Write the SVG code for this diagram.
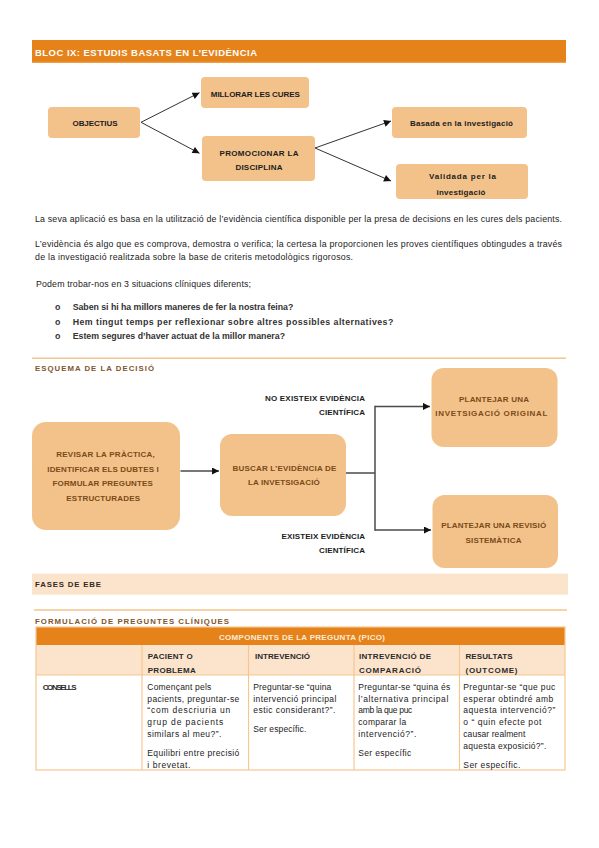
<svg xmlns="http://www.w3.org/2000/svg" width="599" height="848" viewBox="0 0 599 848">
<defs>
<style>
text{font-family:"Liberation Sans",Arial,sans-serif;}
.box{fill:#F2C28A;}
.bl{font-size:8px;font-weight:bold;fill:#1c1c1c;text-anchor:middle;}
.br{font-size:8px;font-weight:bold;fill:#7B4A17;text-anchor:middle;}
.lab{font-size:8px;font-weight:bold;fill:#1c1c1c;text-anchor:end;}
.p{font-size:8.8px;fill:#222;}
.pb{font-size:8.8px;fill:#333;font-weight:bold;}
.sec{font-size:7.8px;font-weight:bold;fill:#80562D;}
.th{font-size:8px;font-weight:bold;fill:#2a2a2a;}
.td{font-size:8.5px;fill:#222;}
.c1{stroke:#333;stroke-width:1;fill:none;}
.c2{stroke:#4a4a4a;stroke-width:1.5;fill:none;}
.rule{stroke:#F3C48C;stroke-width:1.5;}
.tb{stroke:#F5C68F;stroke-width:1.2;fill:none;}
</style>
<marker id="ah" markerUnits="userSpaceOnUse" markerWidth="8" markerHeight="7" viewBox="0 0 10 10" refX="10" refY="5" orient="auto">
<path d="M0,0 L10,5 L0,10 z" fill="#111"/>
</marker>
</defs>
<rect width="599" height="848" fill="#fff"/>

<g id="header">
<rect x="32" y="40" width="534" height="23" fill="#E5821A"/>
<line x1="32" y1="62.3" x2="566" y2="62.3" stroke="#F0A455" stroke-width="1"/>
<text x="35" y="55.5" font-size="9.5" font-weight="bold" fill="#fff" textLength="222">BLOC IX: ESTUDIS BASATS EN L’EVIDÈNCIA</text>
</g>

<g id="connectors">
<line class="c1" x1="141" y1="122.3" x2="199.5" y2="92.7" marker-end="url(#ah)"/>
<line class="c1" x1="141" y1="122.3" x2="199.5" y2="153.3" marker-end="url(#ah)"/>
<line class="c1" x1="315" y1="148" x2="391" y2="121" marker-end="url(#ah)"/>
<line class="c1" x1="315" y1="148" x2="391" y2="181" marker-end="url(#ah)"/>
<line class="c2" x1="180.5" y1="471" x2="219" y2="471" marker-end="url(#ah)"/>
<line class="c2" x1="346" y1="473" x2="375" y2="473"/>
<line class="c2" x1="375" y1="405.7" x2="375" y2="530.7"/>
<line class="c2" x1="375" y1="406.4" x2="430" y2="406.4" marker-end="url(#ah)"/>
<line class="c2" x1="375" y1="530" x2="431" y2="530" marker-end="url(#ah)"/>
</g>

<g id="objectius">
<rect class="box" x="48" y="107" width="92" height="31" rx="4"/>
<text class="bl" x="95" y="125.5" textLength="45">OBJECTIUS</text>
</g>
<g id="millorar">
<rect class="box" x="201" y="77" width="108" height="31" rx="4"/>
<text class="bl" x="255.3" y="97" textLength="89">MILLORAR LES CURES</text>
</g>
<g id="promocionar">
<rect class="box" x="202" y="136" width="113" height="45" rx="4"/>
<text class="bl" x="259" y="155.5" textLength="79">PROMOCIONAR LA</text>
<text class="bl" x="259" y="170" textLength="47">DISCIPLINA</text>
</g>
<g id="basada">
<rect class="box" x="392" y="107" width="135" height="31" rx="4"/>
<text class="bl" x="461.5" y="126" textLength="103">Basada en la investigació</text>
</g>
<g id="validada">
<rect class="box" x="396" y="164" width="132" height="35" rx="4"/>
<text class="bl" x="462.5" y="179" textLength="67">Validada per la</text>
<text class="bl" x="461" y="194.5" textLength="49">investigació</text>
</g>

<g id="text-block">
<text class="p" x="35" y="221.5" textLength="527">La seva aplicació es basa en la utilització de l’evidència científica disponible per la presa de decisions en les cures dels pacients.</text>
<text class="p" x="35" y="246.5" textLength="527">L’evidència és algo que es comprova, demostra o verifica; la certesa la proporcionen les proves científiques obtingudes a través</text>
<text class="p" x="35" y="259.5" textLength="318">de la investigació realitzada sobre la base de criteris metodològics rigorosos.</text>
<text class="p" x="36" y="287" textLength="215">Podem trobar-nos en 3 situacions clíniques diferents;</text>
<text class="pb" x="55" y="310">o</text>
<text class="pb" x="55" y="324.5">o</text>
<text class="pb" x="55" y="339">o</text>
<text class="pb" x="72.7" y="310" textLength="220.6">Saben si hi ha millors maneres de fer la nostra feina?</text>
<text class="pb" x="72.7" y="324.5" textLength="320.6">Hem tingut temps per reflexionar sobre altres possibles alternatives?</text>
<text class="pb" x="72.7" y="339" textLength="212.3">Estem segures d’haver actuat de la millor manera?</text>
</g>

<g id="esquema-title">
<line class="rule" x1="32" y1="358.3" x2="566" y2="358.3"/>
<text class="sec" x="35" y="371" textLength="119">ESQUEMA DE LA DECISIÓ</text>
</g>

<g id="revisar">
<rect class="box" x="32" y="422" width="148" height="108" rx="14"/>
<text class="br" x="105.5" y="457" textLength="98.6">REVISAR LA PRÀCTICA,</text>
<text class="br" x="103" y="472" textLength="111.5">IDENTIFICAR ELS DUBTES I</text>
<text class="br" x="102.7" y="486" textLength="100.4">FORMULAR PREGUNTES</text>
<text class="br" x="103.2" y="501" textLength="73.7">ESTRUCTURADES</text>
</g>
<g id="buscar">
<rect class="box" x="220" y="434" width="126" height="82" rx="12"/>
<text class="br" x="284.4" y="470.5" textLength="104">BUSCAR L’EVIDÈNCIA DE</text>
<text class="br" x="283.9" y="484.5" textLength="71.7">LA INVETSIGACIÓ</text>
</g>
<g id="original">
<rect class="box" x="431.5" y="368" width="126" height="79" rx="12"/>
<text class="br" x="494" y="402" textLength="70">PLANTEJAR UNA</text>
<text class="br" x="491.3" y="416" textLength="112">INVETSIGACIÓ ORIGINAL</text>
</g>
<g id="revisio">
<rect class="box" x="432.5" y="495" width="125.5" height="73" rx="12"/>
<text class="br" x="493.7" y="528" textLength="105">PLANTEJAR UNA REVISIÓ</text>
<text class="br" x="493.5" y="542.5" textLength="56">SISTEMÀTICA</text>
</g>
<g id="labels">
<text class="lab" x="365" y="400.5" textLength="100">NO EXISTEIX EVIDÈNCIA</text>
<text class="lab" x="365" y="415" textLength="46">CIENTÍFICA</text>
<text class="lab" x="365" y="538.5" textLength="83.4">EXISTEIX EVIDÈNCIA</text>
<text class="lab" x="365" y="553" textLength="46">CIENTÍFICA</text>
</g>

<g id="fases">
<rect x="32" y="573.6" width="536" height="21" fill="#FCE4CC"/>
<text x="35" y="587" font-size="7.8" font-weight="bold" fill="#33291f" textLength="66">FASES DE EBE</text>
</g>

<g id="formulacio-title">
<line class="rule" x1="34" y1="610" x2="567" y2="610"/>
<text class="sec" x="35" y="623.5" textLength="194">FORMULACIÓ DE PREGUNTES CLÍNIQUES</text>
</g>

<g id="table">
<rect x="36" y="627" width="529" height="18" fill="#E5821A"/>
<rect x="36" y="645" width="529" height="30" fill="#FCE4CC"/>
<text x="302" y="640" font-size="8" font-weight="bold" fill="#FDEBD8" text-anchor="middle" textLength="166">COMPONENTS DE LA PREGUNTA (PICO)</text>
<rect class="tb" x="36" y="627" width="529" height="143"/>
<line class="tb" x1="36" y1="675" x2="565" y2="675"/>
<line class="tb" x1="142" y1="645" x2="142" y2="770"/>
<line class="tb" x1="248.5" y1="645" x2="248.5" y2="770"/>
<line class="tb" x1="354" y1="645" x2="354" y2="770"/>
<line class="tb" x1="459.5" y1="645" x2="459.5" y2="770"/>

<text class="th" x="147.7" y="659" textLength="45">PACIENT O</text>
<text class="th" x="147.7" y="672.5" textLength="48">PROBLEMA</text>
<text class="th" x="255" y="659" textLength="55">INTREVENCIÓ</text>
<text class="th" x="359" y="659" textLength="72">INTREVENCIÓ DE</text>
<text class="th" x="359" y="672.5" textLength="62">COMPARACIÓ</text>
<text class="th" x="465.5" y="659" textLength="47">RESULTATS</text>
<text class="th" x="465.5" y="672.5" textLength="52">(OUTCOME)</text>

<text class="th" x="42.7" y="690" textLength="34">CONSELLS</text>

<text class="td" x="147.3" y="690" textLength="64">Començant pels</text>
<text class="td" x="147.3" y="701.7" textLength="92">pacients, preguntar-se</text>
<text class="td" x="147.3" y="713.4" textLength="83">“com descriuria un</text>
<text class="td" x="147.3" y="725.1" textLength="76">grup de pacients</text>
<text class="td" x="147.3" y="736.8" textLength="74">similars al meu?”.</text>
<text class="td" x="147.3" y="756" textLength="92">Equilibri entre precisió</text>
<text class="td" x="147.3" y="767.7" textLength="43">i brevetat.</text>

<text class="td" x="253.3" y="690" textLength="78">Preguntar-se “quina</text>
<text class="td" x="253.3" y="701.7" textLength="83">intervenció principal</text>
<text class="td" x="253.3" y="713.4" textLength="82">estic considerant?”.</text>
<text class="td" x="253.3" y="732" textLength="53">Ser específic.</text>

<text class="td" x="358.3" y="690" textLength="92">Preguntar-se “quina és</text>
<text class="td" x="358.3" y="701.7" textLength="90">l’alternativa principal</text>
<text class="td" x="358.3" y="713.4" textLength="54">amb la que puc</text>
<text class="td" x="358.3" y="725.1" textLength="48">comparar la</text>
<text class="td" x="358.3" y="736.8" textLength="58">intervenció?”.</text>
<text class="td" x="358.3" y="756" textLength="53">Ser específic</text>

<text class="td" x="463.3" y="690" textLength="92">Preguntar-se “que puc</text>
<text class="td" x="463.3" y="701.7" textLength="90">esperar obtindré amb</text>
<text class="td" x="463.3" y="713.4" textLength="92">aquesta intervenció?”</text>
<text class="td" x="463.3" y="725.1" textLength="78">o “ quin efecte pot</text>
<text class="td" x="463.3" y="736.8" textLength="62">causar realment</text>
<text class="td" x="463.3" y="748.5" textLength="83">aquesta exposició?”.</text>
<text class="td" x="463.3" y="767.7" textLength="57">Ser específic.</text>
</g>
</svg>
